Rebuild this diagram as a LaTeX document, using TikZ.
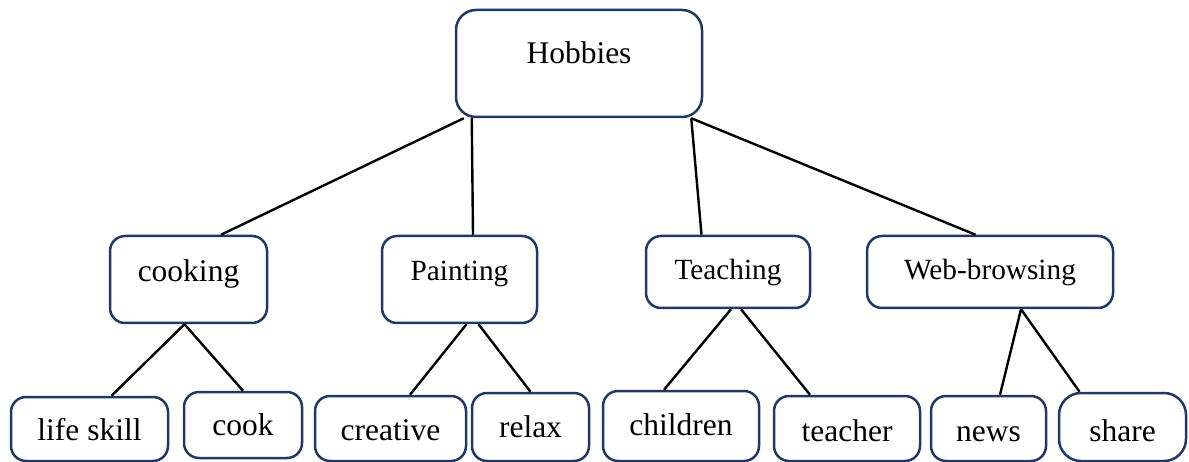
\documentclass[tikz,border=0pt]{standalone}
\usepackage{fontspec}
\setmainfont{Liberation Serif}
\usepackage{xcolor}
\usepackage{tikz}
\definecolor{navy}{HTML}{1F3864}
\tikzset{
  box/.style={draw=navy, line width=2.5pt, rounded corners=15pt, inner sep=0pt,
    font=\fontsize{31.5}{36}\selectfont},
  midbox/.style={box, font=\fontsize{29.3}{34}\selectfont},
  link/.style={draw=black, line width=2.4pt},
}

\begin{document}
\begin{tikzpicture}[x=1pt,y=-1pt]
  \useasboundingbox (0,0) rectangle (1189,462);
  % root
  \node[box, rounded corners=20pt, minimum width=246pt, text height=54pt, text depth=53pt] (hobbies) at (579,63.5) {Hobbies};
  % middle row
  \node[box, minimum width=157pt, text height=46pt, text depth=41pt] (cooking) at (188.5,279.5) {cooking};
  \node[midbox, minimum width=155pt, text height=45pt, text depth=42pt] (painting) at (459.5,279.5) {Painting};
  \node[midbox, minimum width=164pt, text height=44pt, text depth=28pt] (teaching) at (728,272) {Teaching};
  \node[midbox, minimum width=246pt, text height=44pt, text depth=28pt] (webbrowsing) at (990,272) {Web-browsing};
  % bottom row
  \node[box, minimum width=157pt, text height=43pt, text depth=21pt] (lifeskill) at (89.5,429) {life skill};
  \node[box, minimum width=118pt, text height=43pt, text depth=23pt] (cook) at (243,425) {cook};
  \node[box, minimum width=151pt, text height=44pt, text depth=21pt] (creative) at (390.5,428.5) {creative};
  \node[box, minimum width=117pt, text height=44pt, text depth=24pt] (relax) at (530.5,427) {relax};
  \node[box, minimum width=156pt, text height=44pt, text depth=26pt] (children) at (681,426) {children};
  \node[box, minimum width=146pt, text height=45pt, text depth=20pt] (teacher) at (847,428.5) {teacher};
  \node[box, minimum width=115pt, text height=45pt, text depth=20pt] (news) at (988.5,428.5) {news};
  \node[box, rounded corners=22pt, minimum width=127pt, text height=48pt, text depth=20pt] (share) at (1122.5,427) {share};
  % links from the root
  \draw[link] ([xshift=9pt]hobbies.south west) -- ([xshift=32.5pt]cooking.north);
  \draw[link] ([xshift=17pt]hobbies.south west) -- ([xshift=13.5pt]painting.north);
  \draw[link] ([xshift=-12pt]hobbies.south east) -- ([xshift=-26.5pt]teaching.north);
  \draw[link] ([xshift=-12pt]hobbies.south east) -- ([xshift=-14.5pt]webbrowsing.north);
  % links to the leaves
  \draw[link] ([xshift=-4pt]cooking.south) -- ([xshift=22pt]lifeskill.north);
  \draw[link] ([xshift=-4pt]cooking.south) -- (cook.north);
  \draw[link] ([xshift=7pt]painting.south) -- ([xshift=19.5pt]creative.north);
  \draw[link] ([xshift=19pt]painting.south) -- (relax.north);
  \draw[link] ([xshift=3pt]teaching.south) -- ([xshift=-17pt]children.north);
  \draw[link] ([xshift=13pt]teaching.south) -- ([xshift=-37pt]teacher.north);
  \draw[link] ([xshift=31pt]webbrowsing.south) -- ([xshift=11.5pt]news.north);
  \draw[link] ([xshift=31pt]webbrowsing.south) -- ([xshift=-43pt]share.north);
\end{tikzpicture}
\end{document}
